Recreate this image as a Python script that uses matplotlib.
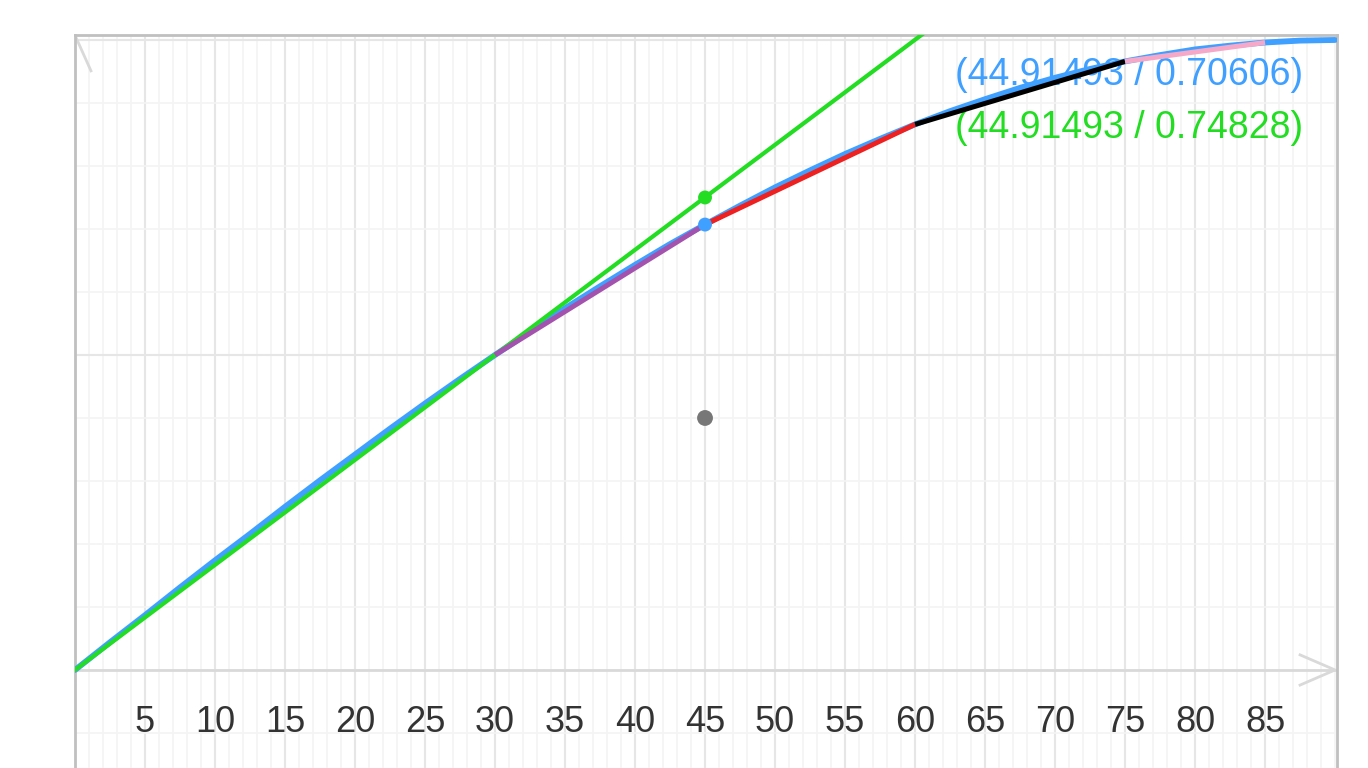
import numpy as np
import matplotlib
matplotlib.use("Agg")
from matplotlib import pyplot as plt

plt.rcParams['font.family'] = ['Liberation Sans', 'DejaVu Sans']

# Werte (Sinus in Grad)
kurve_x = [0, 2.5, 5, 7.5, 10, 12.5, 15, 17.5, 20, 22.5, 25, 27.5, 30, 32.5, 35,
           37.5, 40, 42.5, 45, 47.5, 50, 52.5, 55, 57.5, 60, 62.5, 65, 67.5, 70,
           72.5, 75, 77.5, 80, 82.5, 85, 87.5, 90]
kurve_y = [0.0, 0.044, 0.087, 0.131, 0.174, 0.216, 0.259, 0.301, 0.342, 0.383,
           0.423, 0.462, 0.5, 0.537, 0.574, 0.609, 0.643, 0.676, 0.707, 0.737,
           0.766, 0.793, 0.819, 0.843, 0.866, 0.887, 0.906, 0.924, 0.940, 0.954,
           0.966, 0.976, 0.985, 0.991, 0.996, 0.999, 1.0]

# Gerade durch den Ursprung
gerade_x = [0, 61]
gerade_y = [0.0, 1.017]

# Sehnen zwischen Stuetzstellen
sehnen_x = [30, 45, 60, 75, 85]
sehnen_y = [0.5, 0.707, 0.866, 0.966, 0.996]
sehnen_farben = ['#a352ad', '#ee2020', '#000000', '#f5a8c8']

# Punkte
punkt_x = [45, 45, 45]
punkt_y = [0.75, 0.707, 0.4]
punkt_farben = ['#22dd22', '#3fa0ff', '#777777']
punkt_groesse = [100, 100, 130]

# Beschriftungen
texte = ['(44.91493 / 0.70606)', '(44.91493 / 0.74828)']
text_farben = ['#3fa0ff', '#22dd22']

ticks = list(range(5, 90, 5))

fig = plt.figure(figsize=(13.68, 7.68), dpi=100)
ax = fig.add_axes([75 / 1368, 0, 1262 / 1368, 1 - 35 / 768])
ax.set_xlim(0, 90.14)
ax.set_ylim(-0.1556, 1.0079)

# Gitter
for x in np.arange(1, 91, 1):
    ax.axvline(x, color='#f4f4f4', lw=1.2, zorder=0)
for x in ticks:
    ax.axvline(x, color='#e6e6e6', lw=1.5, zorder=0)
for y in np.arange(-0.1, 1.01, 0.1):
    ax.axhline(y, color='#f4f4f4', lw=1.2, zorder=0)
for y in [0.5, 1.0]:
    ax.axhline(y, color='#e6e6e6', lw=1.5, zorder=0)

# Achse mit Pfeil
ax.axhline(0, color='#d9d9d9', lw=2, zorder=1)
ax.plot([87.5, 90.0, 87.5], [0.024, 0.0, -0.024], color='#d9d9d9', lw=2, zorder=1)
ax.plot([1.14, 0.05], [0.951, 1.005], color='#d9d9d9', lw=2, zorder=1)

ax.plot(kurve_x, kurve_y, color='#3fa0ff', lw=4.2, zorder=3,
        solid_capstyle='round', solid_joinstyle='round')
ax.plot(gerade_x, gerade_y, color='#22dd22', lw=3.0, zorder=4)
for i in range(len(sehnen_farben)):
    ax.plot(sehnen_x[i:i + 2], sehnen_y[i:i + 2], color=sehnen_farben[i], lw=3.6,
            zorder=5, solid_capstyle='butt')

ax.scatter(punkt_x, punkt_y, s=punkt_groesse, c=punkt_farben, zorder=6, edgecolors='none')

ax.text(62.86, 0.944, texte[0], color=text_farben[0], fontsize=27, va='center', ha='left', zorder=2)
ax.text(62.86, 0.860, texte[1], color=text_farben[1], fontsize=27, va='center', ha='left', zorder=2)

ax.set_xticks([])
ax.set_yticks([])
for x in ticks:
    ax.text(x, -0.084, str(x), color='#333333', fontsize=26, ha='center', va='center')

for s in ['left', 'top', 'right']:
    ax.spines[s].set_color('#c0c0c0')
    ax.spines[s].set_linewidth(2)
ax.spines['bottom'].set_visible(False)

plt.savefig('out.png', dpi=100)
